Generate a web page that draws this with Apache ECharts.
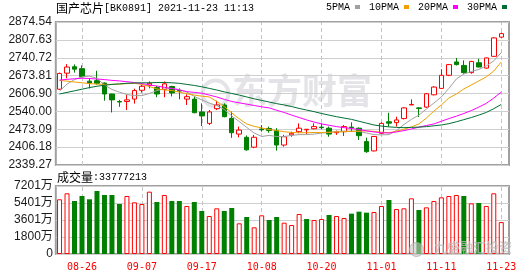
<!DOCTYPE html>
<html>
<head>
<meta charset="utf-8">
<script src="https://cdn.jsdelivr.net/npm/echarts@6/dist/echarts.min.js"></script>
<style>
html,body{margin:0;padding:0;background:#fff;}
#chart{width:530px;height:276px;}
</style>
</head>
<body>
<div id="chart"></div>
<script>
// ---------- data ----------
const categories = ['08-23','08-24','08-25','08-26','08-27','08-30','08-31','09-01','09-02','09-03',
  '09-06','09-07','09-08','09-09','09-10','09-13','09-14','09-15','09-16','09-17',
  '09-22','09-23','09-24','09-27','09-28','09-29','09-30','10-08','10-11','10-12',
  '10-13','10-14','10-15','10-18','10-19','10-20','10-21','10-22','10-25','10-26',
  '10-27','10-28','10-29','11-01','11-02','11-03','11-04','11-05','11-08','11-09',
  '11-10','11-11','11-12','11-15','11-16','11-17','11-18','11-19','11-22','11-23'];

// [open, close, low, high]
const candles = [
  [2623,2682,2620,2685],[2683,2706,2664,2717],[2707,2698,2685,2716],[2700,2670,2667,2712],[2653,2646,2626,2664],
  [2655,2645,2640,2692],[2646,2605,2580,2648],[2605,2583,2536,2606],[2577,2575,2557,2583],[2577,2583,2545,2601],
  [2586,2618,2569,2625],[2619,2634,2610,2640],[2638,2645,2626,2652],[2629,2605,2593,2635],[2622,2643,2593,2652],
  [2633,2609,2596,2636],[2618,2616,2585,2626],[2586,2595,2564,2604],[2586,2535,2533,2595],[2538,2523,2485,2570],
  [2495,2538,2489,2545],[2550,2564,2545,2580],[2564,2520,2518,2570],[2514,2460,2441,2539],[2455,2470,2443,2483],
  [2443,2396,2393,2450],[2406,2443,2402,2452],[2474,2471,2464,2489],[2476,2468,2460,2483],[2468,2414,2393,2477],
  [2414,2445,2408,2452],[2452,2458,2445,2464],[2464,2477,2458,2495],[2471,2473,2455,2474],[2475,2483,2473,2495],
  [2481,2479,2473,2495],[2477,2455,2445,2483],[2460,2464,2452,2468],[2464,2483,2448,2489],[2481,2479,2464,2499],
  [2477,2449,2433,2480],[2427,2389,2385,2442],[2392,2446,2390,2448],[2458,2495,2455,2499],[2501,2496,2483,2535],
  [2498,2508,2483,2520],[2513,2553,2510,2556],[2564,2566,2564,2585],[2553,2551,2519,2556],[2556,2606,2553,2609],
  [2602,2631,2600,2634],[2626,2675,2624,2698],[2675,2715,2672,2717],[2725,2715,2712,2740],[2712,2685,2681,2731],
  [2685,2727,2681,2729],[2722,2706,2705,2737],[2702,2740,2700,2742],[2746,2815,2745,2818],[2818,2831,2815,2835]
];

const ma5 = [2616,2642,2659,2669,2672,2663,2639,2622,2612,2603,
  2599,2599,2607,2618,2624,2626,2622,2612,2596,2583,
  2571,2562,2547,2523,2502,2480,2459,2446,2450,2446,
  2446,2450,2453,2453,2455,2459,2461,2465,2466,2466,
  2465,2459,2453,2452,2453,2468,2491,2510,2526,2549,
  2571,2594,2626,2661,2680,2689,2697,2710,2729,2760];
const ma10 = [2656,2653,2650,2647,2644,2642,2641,2641,2642,2644,
  2645,2641,2633,2624,2620,2618,2612,2606,2601,2597,
  2594,2577,2558,2534,2512,2493,2484,2478,2472,2468,
  2464,2461,2460,2460,2461,2461,2462,2463,2464,2465,
  2466,2467,2465,2462,2460,2466,2473,2482,2493,2515,
  2541,2564,2590,2605,2624,2639,2654,2669,2691,2725];
const ma20 = [2657,2660,2662,2664,2663,2661,2659,2656,2654,2651,
  2648,2644,2639,2635,2630,2626,2620,2614,2611,2608,
  2601,2594,2585,2577,2572,2567,2562,2557,2553,2544,
  2536,2526,2517,2508,2500,2493,2488,2483,2479,2476,
  2472,2467,2463,2460,2459,2463,2468,2474,2481,2487,
  2493,2503,2513,2522,2532,2543,2556,2570,2590,2612];
const ma30 = [2605,2611,2617,2623,2629,2634,2638,2641,2643,2645,
  2646,2647,2647,2648,2648,2647,2645,2641,2637,2632,
  2626,2620,2613,2607,2601,2594,2587,2581,2575,2569,
  2564,2558,2551,2545,2539,2532,2526,2520,2515,2510,
  2503,2496,2489,2485,2482,2480,2479,2480,2481,2483,
  2486,2489,2494,2501,2509,2517,2526,2536,2550,2566];

// volume in 万 (10k)
const volumes = [5793,6428,5613,6142,5793,6672,6248,6248,5295,6142,
  5472,5295,6601,5507,6248,5613,5613,5083,5507,4554,
  4024,4837,4554,4871,3248,3918,2826,4095,3601,3918,
  3318,3071,4236,3707,3601,3707,4130,4024,3812,4271,
  4483,4377,4448,5083,5719,4766,4837,5896,4660,4942,
  5613,6001,6142,6248,6142,5366,5401,5083,6428,3378];
// 1 = red (up) volume bar, 0 = green
const volUp = [1,1,0,0,0,0,0,0,0,1,
  1,1,1,0,1,0,0,1,0,0,
  1,1,0,0,1,0,1,1,0,0,
  1,1,1,0,1,1,0,1,1,0,
  0,0,1,1,0,1,1,1,0,1,
  1,1,1,1,0,1,0,1,1,1];

const priceTicks = ['2339.27','2406.18','2473.09','2540.00','2606.90','2673.81','2740.72','2807.63','2874.54'];
const volTicks = ['0','1800万','3601万','5401万','7201万'];
const labelDates = ['08-26','09-07','09-17','10-08','10-20','11-01','11-11','11-23'];
const priceMin = 2339.27, priceMax = 2874.54, volMax = 7201;
const lastVolume = 33777213;
const titleName = '国产芯片', titleRest = '[BK0891] 2021-11-23 11:13';

// ---------- chart ----------
const mono = "'Liberation Mono','Noto Sans CJK SC',monospace";
const monoBold = "'DejaVu Sans Mono','Liberation Mono',monospace";
const cjk = "'Noto Sans CJK SC',sans-serif";
const sans = "'Liberation Sans','Noto Sans CJK SC',sans-serif";
const RED = '#ff0000', GREEN = '#008000';
const gridLineColor = '#cfcfcf', frameColor = '#a0a0a0';

const chart = echarts.init(document.getElementById('chart'), null, {renderer:'canvas'});

const vLines = {
  symbol:['none','none'], silent:true, animation:false, z:1,
  label:{show:false},
  lineStyle:{color:'#c4c4c4', type:[4,3], width:1},
  emphasis:{disabled:true},
  data: labelDates.map(d => ({xAxis:d}))
};

const lineSeries = (name, data, color) => ({
  name, type:'line', data, xAxisIndex:0, yAxisIndex:0,
  showSymbol:false, symbol:'none', smooth:false,
  lineStyle:{color, width:1}, itemStyle:{color}, z:3,
  emphasis:{disabled:true}
});

const richTitle = {
  c:{fontFamily:cjk, fontSize:12, fontWeight:'normal', color:'#000'},
  a:{fontFamily:mono, fontSize:10, fontWeight:'normal', color:'#000'}
};

chart.setOption({
  animation:false,
  backgroundColor:'#fff',
  title:[
    {left:56, top:2, padding:0, text:'{c|'+titleName+'}{a|'+titleRest+'}',
     textStyle:{fontWeight:'normal', rich:richTitle}},
    {left:57, top:171, padding:0, text:'{c|成交量}{a|:'+lastVolume+'}',
     textStyle:{fontWeight:'normal', rich:richTitle}}
  ],
  legend:{
    left:326, top:2, padding:0, icon:'rect', itemWidth:5, itemHeight:4, itemGap:9, align:'right',
    selectedMode:false,
    textStyle:{fontFamily:mono, fontSize:10, color:'#000'},
    data:['5PMA','10PMA','20PMA','30PMA']
  },
  graphic:[
    {type:'text', left:232, top:73, z:0, silent:true,
     style:{text:'东方财富', fontFamily:cjk, fontSize:35, fontWeight:'bold', fill:'#e4e4e8'}},
    {type:'circle', left:200, top:78, z:0, silent:true, shape:{r:13}, style:{fill:'none', stroke:'#e4e4e8', lineWidth:4}},
    {type:'text', left:434, top:241, z:10, silent:true,
     style:{text:'九盛融汇投资', fontFamily:cjk, fontSize:13, fontWeight:'bold', fill:'rgba(190,190,190,0.75)'}},
    {type:'circle', left:409, top:242, z:10, silent:true, shape:{r:7}, style:{fill:'rgba(200,200,200,0.6)', stroke:'rgba(170,170,170,0.7)', lineWidth:1}}
  ],
  grid:[
    {left:55.8, top:22, width:449.2, height:143},
    {left:55.8, top:22, right:21, height:143, show:true, borderColor:frameColor, borderWidth:2},
    {left:55.8, top:186, width:449.2, height:68},
    {left:55.8, top:186, right:21, height:68, show:true, borderColor:frameColor, borderWidth:2}
  ],
  xAxis:[
    {type:'category', gridIndex:0, data:categories, boundaryGap:true,
     axisLine:{show:false}, axisTick:{show:false}, axisLabel:{show:false}, splitLine:{show:false}},
    {type:'value', gridIndex:1, min:0, max:1, show:false},
    {type:'category', gridIndex:2, data:categories, boundaryGap:true,
     axisLine:{show:false}, axisTick:{show:false}, splitLine:{show:false},
     axisLabel:{interval:(i, v) => labelDates.indexOf(v) >= 0, color:RED, margin:8,
       formatter:v => '{r|' + v + '}',
       rich:{r:{color:RED, fontFamily:monoBold, fontSize:10}}}},
    {type:'value', gridIndex:3, min:0, max:1, show:false}
  ],
  yAxis:[
    {type:'value', gridIndex:0, min:priceMin, max:priceMax, show:false},
    {type:'value', gridIndex:1, min:0, max:priceTicks.length-1, interval:1,
     axisLine:{show:false}, axisTick:{show:false},
     axisLabel:{formatter:v => priceTicks[Math.round(v)], fontFamily:sans, fontSize:12, color:'#1a1a1a', margin:4},
     splitLine:{lineStyle:{color:gridLineColor, width:1}}},
    {type:'value', gridIndex:2, min:0, max:volMax, show:false},
    {type:'value', gridIndex:3, min:0, max:volTicks.length-1, interval:1,
     axisLine:{show:false}, axisTick:{show:false},
     axisLabel:{formatter:v => volTicks[Math.round(v)], fontFamily:sans, fontSize:12, color:'#1a1a1a', margin:3},
     splitLine:{lineStyle:{color:gridLineColor, width:1}}}
  ],
  series:[
    {type:'candlestick', name:'K', xAxisIndex:0, yAxisIndex:0, data:candles, barWidth:5, z:2,
     itemStyle:{color:'#ffffff', color0:GREEN, borderColor:RED, borderColor0:GREEN, borderWidth:1},
     emphasis:{disabled:true},
     markLine:vLines},
    lineSeries('5PMA', ma5, '#a0a0a0'),
    lineSeries('10PMA', ma10, '#f0a000'),
    lineSeries('20PMA', ma20, '#ff00ff'),
    lineSeries('30PMA', ma30, '#006f35'),
    {type:'bar', name:'VOL', xAxisIndex:2, yAxisIndex:2, barWidth:5, z:2,
     emphasis:{disabled:true},
     data: volumes.map((v, i) => ({
       value:v,
       itemStyle: volUp[i] ? {color:'#ffffff', borderColor:RED, borderWidth:1} : {color:GREEN, borderWidth:0}
     })),
     markLine:vLines}
  ]
});
</script>
</body>
</html>
